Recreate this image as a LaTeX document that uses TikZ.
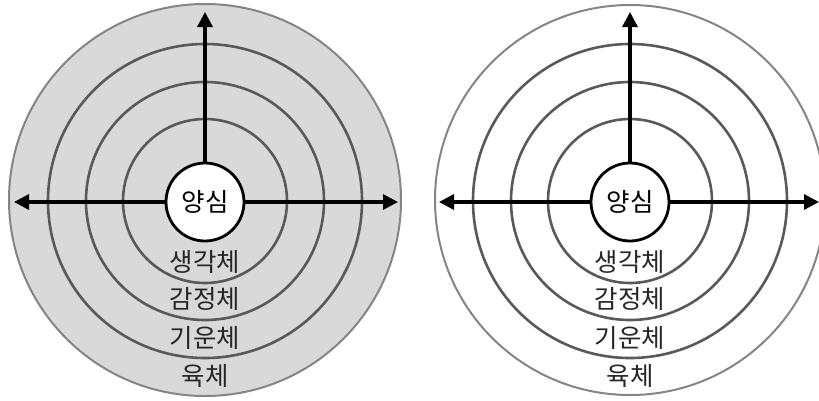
\documentclass[tikz,border=0pt]{standalone}
\usepackage{fontspec}
\newfontfamily\kr{Noto Sans CJK KR}
\usetikzlibrary{arrows.meta}
\definecolor{ringfill}{HTML}{D9D9D9}
\definecolor{outerring}{HTML}{858585}
\definecolor{innerring}{HTML}{595959}
\begin{document}
\begin{tikzpicture}[x=1pt,y=-1pt,
  outerc/.style={draw=outerring,line width=2pt},
  innerc/.style={draw=innerring,line width=2.6pt},
  core/.style={circle,draw=black,line width=2.8pt,fill=white,minimum size=78pt,inner sep=0pt,font=\kr\fontsize{25.5}{27}\selectfont},
  lbl/.style={inner sep=0pt,font=\kr\fontsize{25.5}{27}\selectfont,text=black!85},
  axis/.style={line width=3.2pt,-{Triangle[length=15pt,width=15pt]}}]
\useasboundingbox (0,0) rectangle (819,400);
% left diagram
\fill[ringfill] (205,200) circle (196);
\draw[outerc] (205,200) circle (196);
\foreach \r in {157,119,82} \draw[innerc] (205,201) circle (\r);
\coordinate (lT) at (205,12);
\coordinate (lL) at (14,202);
\coordinate (lR) at (398,202);
\node[core] (lc) at (205,202) {양심};
\draw[axis] (lc.north) -- (lT);
\draw[axis] (lc.west) -- (lL);
\draw[axis] (lc.east) -- (lR);
\node[lbl] (l1) at (205,262) {생각체};
\node[lbl] (l2) at (205,299) {감정체};
\node[lbl] (l3) at (205,338) {기운체};
\node[lbl] (l4) at (205,376) {육체};
% right diagram
\draw[outerc] (630,200) circle (195);
\foreach \r in {157,119,82} \draw[innerc] (630,201) circle (\r);
\coordinate (rT) at (630,12);
\coordinate (rL) at (439,202);
\coordinate (rR) at (819,202);
\node[core] (rc) at (630,202) {양심};
\draw[axis] (rc.north) -- (rT);
\draw[axis] (rc.west) -- (rL);
\draw[axis] (rc.east) -- (rR);
\node[lbl] (r1) at (630,262) {생각체};
\node[lbl] (r2) at (630,299) {감정체};
\node[lbl] (r3) at (630,338) {기운체};
\node[lbl] (r4) at (630,376) {육체};
\end{tikzpicture}
\end{document}
